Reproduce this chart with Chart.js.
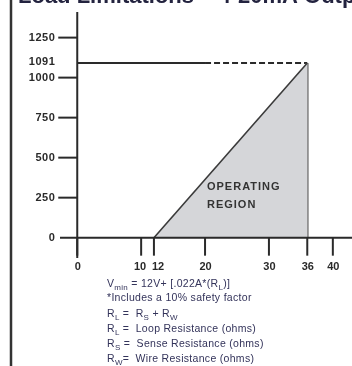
<!DOCTYPE html>
<html>
<head>
<meta charset="utf-8">
<script src="https://cdn.jsdelivr.net/npm/chart.js@4.4.1/dist/chart.umd.min.js"></script>
<style>
  html, body { margin: 0; padding: 0; background: #ffffff; }
  #wrap { width: 352px; height: 366px; position: relative; }
</style>
</head>
<body>
<div id="wrap"><canvas id="c" width="352" height="366"></canvas></div>
<script>
// ---- data ----
const titleText = 'Load Limitations – 4-20mA Output';
const xTicks = [0, 10, 12, 20, 30, 36, 40];          // supply voltage (V)
const yTicks = [0, 250, 500, 750, 1000, 1250];       // loop resistance (ohms)
const yMarkValue = 1091;                             // max loop resistance label
const boundaryX = [12, 36];                          // operating-region diagonal
const boundaryY = [0, 1091];
const limitSolidX = [0, 20];                         // solid part of 1091 limit
const limitDashX = [20, 36];                         // dashed part of 1091 limit
const maxSupplyX = [36, 36];                         // vertical limit at 36 V
const maxSupplyY = [0, 1091];
const regionLabel = ['OPERATING', 'REGION'];
const regionLabelAt = { x: 20.3, y: 317 };
const notes = [
  ['V', 'min', ' = 12V+ [.022A*(R', 'L', ')]'],
  ['*Includes a 10% safety factor'],
  ['R', 'L', ' =  R', 'S', ' + R', 'W'],
  ['R', 'L', ' =  Loop Resistance (ohms)'],
  ['R', 'S', ' =  Sense Resistance (ohms)'],
  ['R', 'W', '=  Wire Resistance (ohms)']
];

const pts = (xs, ys) => xs.map((x, i) => ({ x: x, y: ys[i] }));

const axesPlugin = {
  id: 'axesPlugin',
  afterDatasetsDraw(chart) {
    const ctx = chart.ctx;
    const xs = chart.scales.x, ys = chart.scales.y;
    const x0 = xs.getPixelForValue(0), y0 = ys.getPixelForValue(0);
    const area = chart.chartArea;
    ctx.save();
    ctx.strokeStyle = '#2a2a2a';
    ctx.lineWidth = 2;
    ctx.beginPath();
    ctx.moveTo(x0, area.top); ctx.lineTo(x0, area.bottom);
    ctx.moveTo(area.left, y0); ctx.lineTo(area.right, y0);
    ctx.stroke();
    ctx.font = 'bold 11px "Liberation Sans", Arial, sans-serif';
    ctx.letterSpacing = '0.5px';
    ctx.fillStyle = '#2a2a2a';
    ctx.textAlign = 'right';
    ctx.textBaseline = 'middle';
    yTicks.forEach(v => {
      const py = ys.getPixelForValue(v);
      if (v !== 0) {
        ctx.beginPath(); ctx.moveTo(x0 - 19, py); ctx.lineTo(x0, py); ctx.stroke();
      }
      ctx.fillText(String(v), x0 - 22, py);
    });
    ctx.fillText(String(yMarkValue), x0 - 22, ys.getPixelForValue(yMarkValue) - 1.5);
    ctx.letterSpacing = '0px';
    xTicks.forEach((v, i) => {
      const px = xs.getPixelForValue(v);
      ctx.beginPath(); ctx.moveTo(px, y0); ctx.lineTo(px, y0 + 18); ctx.stroke();
      // keep crowded neighbouring labels apart
      const prev = i > 0 ? xs.getPixelForValue(xTicks[i - 1]) : -1e9;
      const next = i < xTicks.length - 1 ? xs.getPixelForValue(xTicks[i + 1]) : 1e9;
      if (next - px < 20) { ctx.textAlign = 'right'; ctx.fillText(String(v), px + 5, y0 + 29); }
      else if (px - prev < 20) { ctx.textAlign = 'left'; ctx.fillText(String(v), px - 2, y0 + 29); }
      else { ctx.textAlign = 'center'; ctx.fillText(String(v), px + 0.5, y0 + 29); }
    });
    ctx.textAlign = 'left';
    ctx.font = 'bold 11px "Liberation Sans", Arial, sans-serif';
    ctx.letterSpacing = '1px';
    ctx.fillStyle = '#333333';
    const lx = xs.getPixelForValue(regionLabelAt.x);
    const ly = ys.getPixelForValue(regionLabelAt.y);
    regionLabel.forEach((t, i) => ctx.fillText(t, lx, ly + i * 18));
    ctx.restore();
  },
  afterDraw(chart) {
    const ctx = chart.ctx;
    ctx.save();
    ctx.strokeStyle = '#333333';
    ctx.lineWidth = 2.5;
    ctx.beginPath(); ctx.moveTo(11, 0); ctx.lineTo(11, 366); ctx.stroke();
    ctx.fillStyle = '#23233f';
    ctx.font = 'bold 22px "Liberation Sans", Arial, sans-serif';
    ctx.textAlign = 'left';
    ctx.textBaseline = 'alphabetic';
    ctx.fillText(titleText, 18, 3);
    ctx.fillStyle = '#33335a';
    ctx.letterSpacing = '0.3px';
    const baseX = 107;
    notes.forEach((parts, li) => {
      const yBase = [287, 301, 317, 332, 347, 362][li];
      let cx = baseX;
      parts.forEach((p, pi) => {
        const isSub = (parts.length > 1) && (pi % 2 === 1);
        ctx.font = isSub ? '8px "Liberation Sans", Arial, sans-serif' : '10.5px "Liberation Sans", Arial, sans-serif';
        ctx.fillText(p, cx, isSub ? yBase + 2.5 : yBase);
        cx += ctx.measureText(p).width;
      });
    });
    ctx.restore();
  }
};

new Chart(document.getElementById('c'), {
  type: 'scatter',
  data: {
    datasets: [
      {
        data: pts(boundaryX, boundaryY),
        showLine: true,
        fill: 'origin',
        backgroundColor: '#d5d6d9',
        borderColor: '#3a3a3a',
        borderWidth: 1.6,
        pointRadius: 0
      },
      {
        data: pts(maxSupplyX, maxSupplyY),
        showLine: true,
        borderColor: '#8c8c8c',
        borderWidth: 3,
        pointRadius: 0
      },
      {
        data: pts(limitSolidX, [yMarkValue, yMarkValue]),
        showLine: true,
        borderColor: '#2a2a2a',
        borderWidth: 2,
        pointRadius: 0
      },
      {
        data: pts(limitDashX, [yMarkValue, yMarkValue]),
        showLine: true,
        borderColor: '#2a2a2a',
        borderWidth: 2,
        borderDash: [6, 3],
        pointRadius: 0
      }
    ]
  },
  options: {
    responsive: false,
    devicePixelRatio: 1,
    animation: false,
    layout: { padding: { left: 60, right: 0, top: 12, bottom: 108 } },
    plugins: { legend: { display: false }, tooltip: { enabled: false }, title: { display: false } },
    scales: {
      x: { type: 'linear', min: -2.7, max: 43, display: false },
      y: { type: 'linear', min: -127, max: 1410, display: false }
    }
  },
  plugins: [axesPlugin]
});
</script>
</body>
</html>
